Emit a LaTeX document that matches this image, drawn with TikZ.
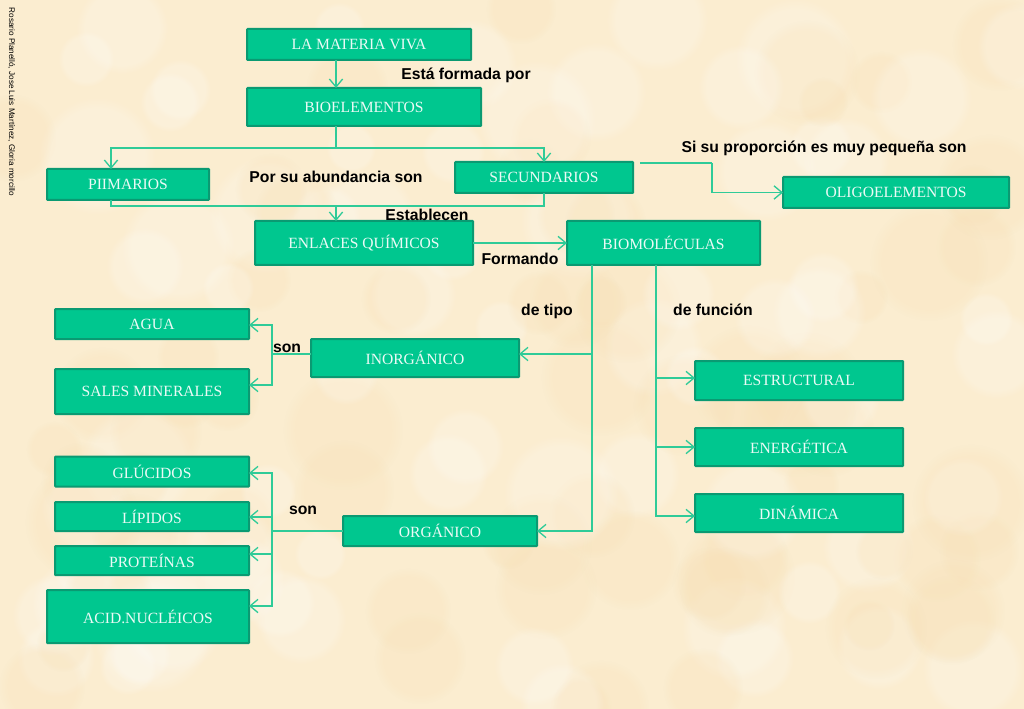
\documentclass[tikz,border=0pt]{standalone}
\usepackage{fontspec}
\setmainfont{Liberation Serif}
\setsansfont{Liberation Sans}
\usetikzlibrary{arrows.meta,fadings}
\definecolor{paper}{HTML}{FBEDD0}
\definecolor{blotch}{HTML}{F8DDB0}
\definecolor{boxfill}{HTML}{00C78F}
\definecolor{boxline}{HTML}{0A9A72}
\definecolor{wire}{HTML}{2FCB98}
\tikzset{
  box/.style={draw=boxline, fill=boxfill, line width=1.5pt, rounded corners=0.5pt, text=white!92!boxfill, font=\fontsize{11.7}{13}\selectfont, inner sep=0pt, outer sep=0pt},
  lbl/.style={font=\sffamily\bfseries\fontsize{11.8}{13}\selectfont, text=black, inner sep=0pt},
  wirel/.style={draw=wire, line width=1pt},
  wirea/.style={wirel, -{Straight Barb[length=6pt,width=10pt,line width=1pt]}},
  blot/.style={fill=#1, path fading=circle with fuzzy edge 20 percent, opacity=0.2}
}
\pgfmathsetseed{41}
\begin{document}
\begin{tikzpicture}[x=0.75pt,y=0.75pt]
      \useasboundingbox (0,0) rectangle (1024,-709);
      \fill [paper] (0,0) rectangle (1024,-709);
      \begin{scope}
      \clip (0,0) rectangle (1024,-709);
      \foreach \i in {1,...,70} {
        \pgfmathsetmacro{\bx}{random(0,1024)}
        \pgfmathsetmacro{\by}{-random(0,709)}
        \pgfmathsetmacro{\br}{random(25,60)}
        \fill [blot=blotch] (\bx,\by) circle (\br);
        \pgfmathsetmacro{\bx}{random(0,1024)}
        \pgfmathsetmacro{\by}{-random(0,709)}
        \fill [blot=white] (\bx,\by) circle (\br);
      }
      \end{scope}
      \node [box, minimum width=168pt, minimum height=23.25pt] (materia) at (359,-44.5) {LA MATERIA VIVA};
      \node [box, minimum width=175.5pt, minimum height=28.5pt] (bio) at (364,-107) {BIOELEMENTOS};
      \node [box, minimum width=121.5pt, minimum height=23.25pt] (prim) at (128,-184.5) {PIIMARIOS};
      \node [box, minimum width=133.5pt, minimum height=23.25pt] (sec) at (544,-177.5) {SECUNDARIOS};
      \node [box, minimum width=169.5pt, minimum height=23.25pt] (oligo) at (896,-192.5) {OLIGOELEMENTOS};
      \node [box, minimum width=163.5pt, minimum height=33pt] (enlaces) at (364,-243) {ENLACES QUÍMICOS};
      \node [box, minimum width=144.75pt, minimum height=33pt] (biomol) at (663.5,-243) {BIOMOLÉCULAS};
      \node [box, minimum width=145.5pt, minimum height=22.5pt] (agua) at (152,-324) {AGUA};
      \node [box, minimum width=145.5pt, minimum height=33.75pt] (sales) at (152,-391.5) {SALES MINERALES};
      \node [box, minimum width=156pt, minimum height=28.5pt] (inorg) at (415,-358) {INORGÁNICO};
      \node [box, minimum width=145.5pt, minimum height=22.5pt] (gluc) at (152,-471.5) {GLÚCIDOS};
      \node [box, minimum width=145.5pt, minimum height=21.75pt] (lip) at (152,-516.5) {LÍPIDOS};
      \node [box, minimum width=145.5pt, minimum height=21.75pt] (prot) at (152,-560.5) {PROTEÍNAS};
      \node [box, minimum width=151.5pt, minimum height=39.75pt] (acid) at (148,-616.5) {ACID.NUCLÉICOS};
      \node [box, minimum width=145.5pt, minimum height=22.5pt] (org) at (440,-531) {ORGÁNICO};
      \node [box, minimum width=156pt, minimum height=29.25pt] (estr) at (799,-380.5) {ESTRUCTURAL};
      \node [box, minimum width=156pt, minimum height=28.5pt] (ener) at (799,-447) {ENERGÉTICA};
      \node [box, minimum width=156pt, minimum height=28.5pt] (dina) at (799,-513) {DINÁMICA};
      \node [lbl] (lformada) at (466,-75) {Está formada por};
      \node [lbl] (labund) at (336,-177) {Por su abundancia son};
      \node [lbl] (lprop) at (824,-148.5) {Si su proporción es muy pequeña son};
      \node [lbl] (lestab) at (427,-215) {Establecen};
      \node [lbl] (lform) at (520,-259) {Formando};
      \node [lbl] (ltipo) at (547,-311.5) {de tipo};
      \node [lbl] (lfunc) at (713,-310) {de función};
      \node [lbl] (lson) at (287,-348) {son};
      \node [lbl] (lsonb) at (303,-510) {son};
      \node [font=\sffamily\fontsize{6.1}{7}\selectfont, rotate=-90, inner sep=0pt] (lautor) at (11.5,-102) {Rosario Planelló, Jose Luis Martínez, Gloria morcillo};
      \coordinate (splitb) at (336,-148);
      \coordinate (joinp) at (336,-206);
      \coordinate (bioa) at (592,-354);
      \coordinate (fna) at (656,-378);
      \coordinate (busi) at (272,-354);
      \coordinate (buso) at (272,-531);
      \coordinate (seca) at (640,-163);
      \coordinate (secb) at (712,-163);
      \draw [wirea] (materia.south -| splitb) -- (bio.north -| splitb);
      \draw [wirel] (bio.south -| splitb) -- (splitb);
      \draw [wirea] (splitb) -| ([xshift=-12.75pt]prim.north);
      \draw [wirea] (splitb) -| (sec.north);
      \draw [wirel] ([xshift=-12.75pt]prim.south) |- (joinp) -| (sec.south);
      \draw [wirea] (joinp) -- (enlaces.north -| joinp);
      \draw [wirel] (seca) -- (secb);
      \draw [wirea] (secb) |- (oligo.west);
      \draw [wirea] (enlaces.east) -- (biomol.west);
      \draw [wirel] (biomol.south -| bioa) -- (bioa);
      \draw [wirea] (bioa) -- (inorg.east |- bioa);
      \draw [wirea] (bioa) |- (org.east);
      \draw [wirel] (biomol.south -| fna) -- (fna);
      \draw [wirea] (fna) -- (estr.west |- fna);
      \draw [wirea] (fna) |- (ener.west);
      \draw [wirea] (fna) |- (dina.west |- 0,-516);
      \draw [wirel] (inorg.west |- busi) -- (busi);
      \draw [wirea] (busi) |- (agua.east |- 0,-325);
      \draw [wirea] (busi) |- (sales.east |- 0,-385);
      \draw [wirel] (org.west) -- (buso);
      \draw [wirea] (buso) |- (gluc.east |- 0,-473);
      \draw [wirea] (buso) |- (lip.east |- 0,-517);
      \draw [wirea] (buso) |- (prot.east |- 0,-554);
      \draw [wirea] (buso) |- (acid.east |- 0,-606);
\end{tikzpicture}
\end{document}
